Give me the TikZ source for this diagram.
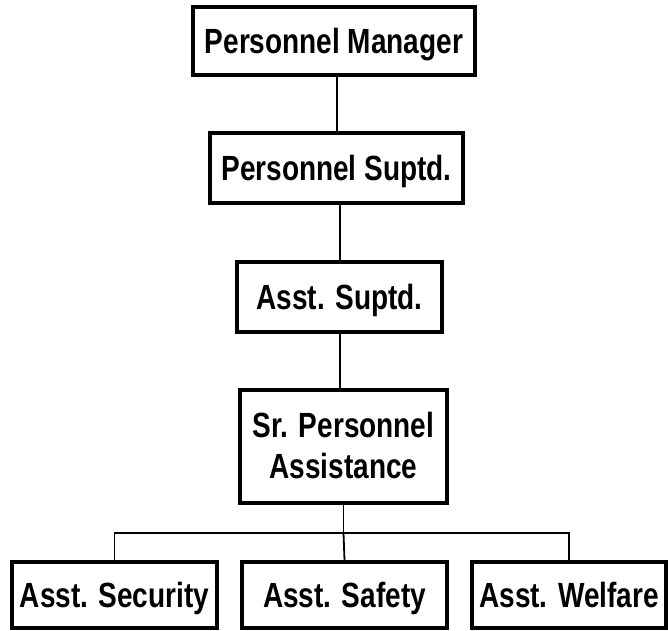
\documentclass[tikz,border=0pt]{standalone}
\usepackage{fontspec}
\newfontfamily\lab[FakeStretch=0.80]{Liberation Sans Bold}
\begin{document}
\begin{tikzpicture}[x=1pt,y=1pt,
  box/.style={draw=black, line width=3.2pt, fill=white, inner sep=0pt, align=center,
    text height=25pt, text depth=0pt,
    font=\lab\fontsize{35}{41}\selectfont},
  link/.style={draw=black, line width=1.8pt}]
\useasboundingbox (0,0) rectangle (668,630);
\node[box, minimum width=282, minimum height=68] (pm) at (334,589) {Personnel Manager};
\node[box, minimum width=253, minimum height=70] (ps) at (336.5,462) {Personnel Suptd.};
\node[box, minimum width=205, minimum height=70] (as) at (339.5,333) {Asst. Suptd.};
\node[box, minimum width=207, minimum height=113, text height=63pt] (sr) at (343.5,183.5) {Sr. Personnel\\Assistance};
\node[box, minimum width=205, minimum height=66] (sec) at (114.5,35) {Asst. Security};
\node[box, minimum width=205, minimum height=66] (saf) at (344.5,35) {Asst. Safety};
\node[box, minimum width=194, minimum height=66] (wel) at (569,35) {Asst. Welfare};
\coordinate (bus) at (343.5,97);
\draw[link] ([xshift=3pt]pm.south) -- ([xshift=0.5pt]ps.north);
\draw[link] ([xshift=3.5pt]ps.south) -- ([xshift=0.5pt]as.north);
\draw[link] ([xshift=0.5pt]as.south) -- ([xshift=-3.5pt]sr.north);
\draw[link] (sr.south) -- (bus);
\draw[link] (sec.north) |- (bus) -| (wel.north);
\draw[link] (bus) -- (saf.north);
\end{tikzpicture}
\end{document}
